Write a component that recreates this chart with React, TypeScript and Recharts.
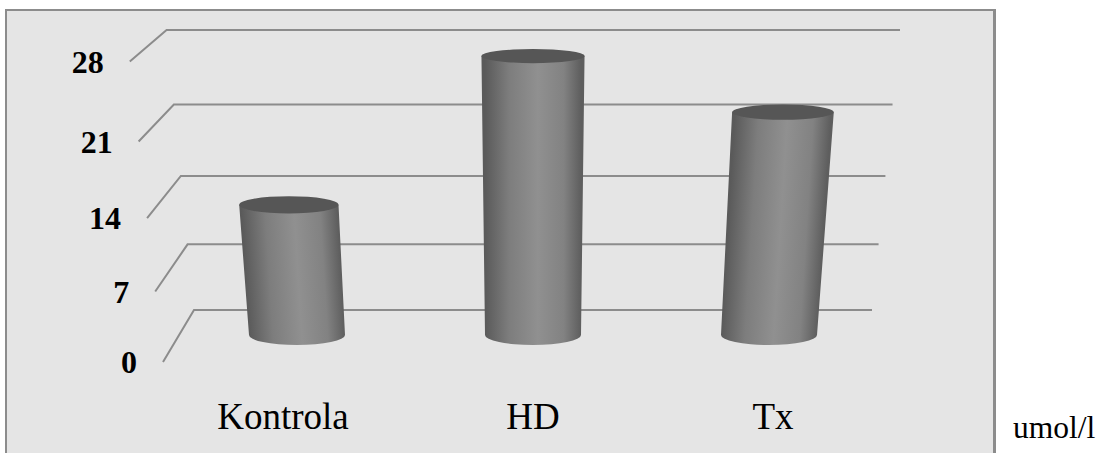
import { BarChart, Bar, XAxis, YAxis } from "recharts"

const categories = ["Kontrola", "HD", "Tx"]
const values = [13.2, 27.1, 22]
const yTicks = [0, 7, 14, 21, 28]
const unit = "umol/l"

const SERIF = "'Liberation Serif', 'Times New Roman', serif"
const LINE = "#8c8c8c"
const LABEL_SHIFT = [-14, 0, 4]

const WIDTH = 1100
const HEIGHT = 453
const AXIS_MARGIN = { top: 46, right: 213, bottom: 108, left: 169 }
const BAR_MARGIN = { top: 46, right: 213, bottom: 118, left: 179 }
const VANISH_X = 533
const GROW = 0.000265

// the value axis gets stretched towards the top, like in the 3d original
function perspectiveScale() {
    let dom = [0, 1]
    let rng = [0, 1]
    const a = 1.088
    const s: any = (v: number) => {
        const t = (v - dom[0]) / (dom[1] - dom[0])
        return rng[0] + (rng[1] - rng[0]) * (t / (t + (1 - t) * a))
    }
    s.domain = (d?: number[]) => {
        if (!d) return dom
        dom = [...d]
        return s
    }
    s.range = (r?: number[]) => {
        if (!r) return rng
        rng = [...r]
        return s
    }
    s.ticks = () => yTicks
    s.copy = () => perspectiveScale().domain(dom).range(rng)
    return s
}

// y is where the axis puts the value, on the middle plane of the chart
function ValueTick({ y, payload }: any) {
    const rise = 335 - y
    const up = 25 - rise * 0.0315
    const backY = y - up
    const frontY = y + up + 2 - rise * 0.008
    const left = 194 - (310 - backY) * 0.098
    const right = 872 + (310 - backY) * 0.1
    const frontX = left - 31 - rise * 0.02
    return (
        <g>
            <polyline
                points={`${frontX},${frontY} ${left},${backY} ${right},${backY}`}
                fill="none"
                stroke={LINE}
                strokeWidth={2}
            />
            <text
                x={frontX - 26}
                y={frontY + 11}
                textAnchor="end"
                fontFamily={SERIF}
                fontWeight="bold"
                fontSize={32}
                fill="#000"
            >
                {payload.value}
            </text>
        </g>
    )
}

function CategoryTick({ x, y, payload, index }: any) {
    return (
        <text
            x={x + LABEL_SHIFT[index]}
            y={y + 86}
            textAnchor="middle"
            fontFamily={SERIF}
            fontSize={37}
            fill="#000"
        >
            {payload.value}
        </text>
    )
}

function Cylinder({ x, y, width, height, index }: any) {
    const cx = x + width / 2
    const baseY = y + height
    const scale = 1 + GROW * height
    const topCx = VANISH_X + (cx - VANISH_X) * scale
    const r = width / 2
    const topR = r * scale
    const id = `cyl-${index}`

    // gradient runs across the leaning body
    const dx = topCx - cx
    const len = Math.hypot(dx, height)
    const nx = (height / len) * r
    const ny = (dx / len) * r
    const midX = (cx + topCx) / 2
    const midY = (baseY + y) / 2

    return (
        <g>
            <defs>
                <linearGradient
                    id={id}
                    gradientUnits="userSpaceOnUse"
                    x1={midX - nx}
                    y1={midY - ny}
                    x2={midX + nx}
                    y2={midY + ny}
                >
                    <stop offset="0%" stopColor="#5a5a5a" />
                    <stop offset="25%" stopColor="#7d7d7d" />
                    <stop offset="55%" stopColor="#909090" />
                    <stop offset="82%" stopColor="#828282" />
                    <stop offset="100%" stopColor="#5e5e5e" />
                </linearGradient>
            </defs>
            <path
                d={`M${topCx - topR},${y} L${cx - r},${baseY} A${r},10 0 0 0 ${cx + r},${baseY} L${topCx + topR},${y} Z`}
                fill={`url(#${id})`}
            />
            <ellipse cx={topCx} cy={y} rx={topR} ry={10 - height * 0.0105} fill="#565656" />
        </g>
    )
}

export default function App() {
    const data = categories.map((name, i) => ({ name, value: values[i] }))

    return (
        <div style={{ position: "absolute", left: 0, top: 0, width: WIDTH, height: HEIGHT, overflow: "hidden", background: "#fff" }}>
            <div
                style={{
                    position: "absolute",
                    left: 5,
                    top: 9,
                    width: 986,
                    height: 460,
                    background: "#e5e5e5",
                    borderTop: "2px solid #8c8c8c",
                    borderLeft: "2px solid #8c8c8c",
                    borderRight: "3px solid #8c8c8c",
                }}
            />
            {/* axes and wall lines go in a chart underneath, recharts always paints ticks over bars */}
            <div style={{ position: "absolute", left: 0, top: 0 }}>
                <BarChart width={WIDTH} height={HEIGHT} data={data} margin={AXIS_MARGIN} barSize={96}>
                    <YAxis
                        scale={perspectiveScale() as any}
                        domain={[0, 28]}
                        ticks={yTicks}
                        interval={0}
                        axisLine={false}
                        tickLine={false}
                        tick={<ValueTick />}
                        width={10}
                    />
                    <XAxis
                        dataKey="name"
                        axisLine={false}
                        tickLine={false}
                        tick={<CategoryTick />}
                        height={10}
                    />
                    <Bar dataKey="value" isAnimationActive={false} shape={() => null} />
                </BarChart>
            </div>
            <div style={{ position: "absolute", left: 0, top: 0 }}>
                <BarChart width={WIDTH} height={HEIGHT} data={data} margin={BAR_MARGIN} barSize={96}>
                    <YAxis hide scale={perspectiveScale() as any} domain={[0, 28]} />
                    <XAxis hide dataKey="name" />
                    <Bar dataKey="value" isAnimationActive={false} shape={<Cylinder />} />
                </BarChart>
            </div>
            <div
                style={{
                    position: "absolute",
                    left: 1013,
                    top: 410,
                    fontFamily: SERIF,
                    fontSize: 31.5,
                    color: "#000",
                }}
            >
                {unit}
            </div>
        </div>
    )
}
